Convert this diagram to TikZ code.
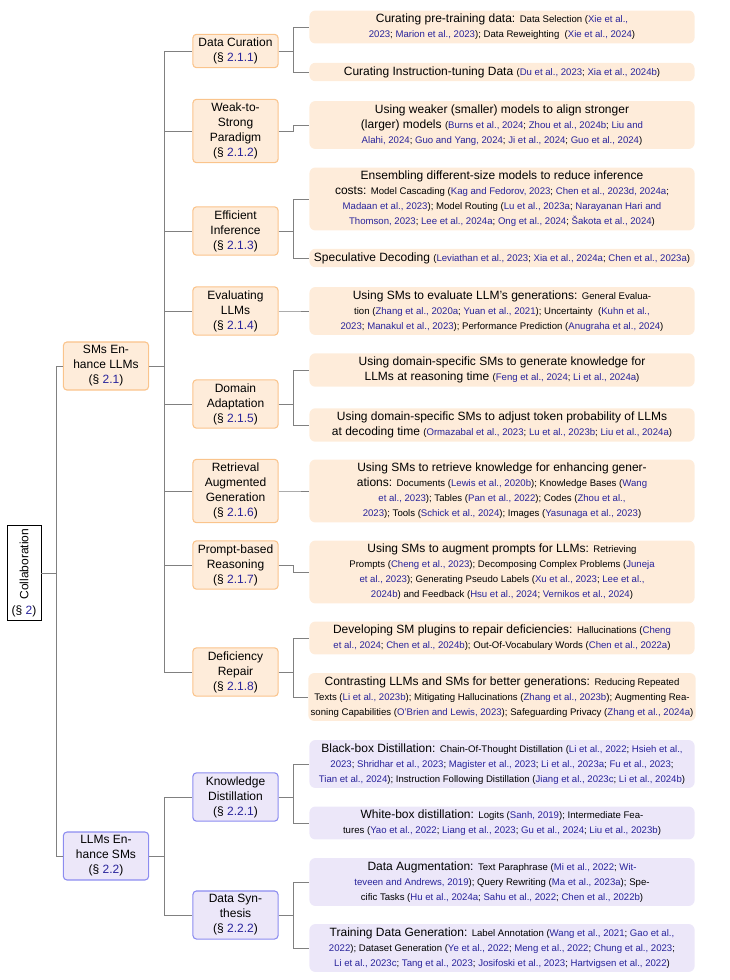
\documentclass[tikz,border=0pt]{standalone}
\usepackage{fontspec}
\setmainfont{Liberation Sans}

\definecolor{citeblue}{RGB}{40,35,155}
\definecolor{orfill}{RGB}{254,236,218}
\definecolor{ordraw}{RGB}{250,196,140}
\definecolor{pufill}{RGB}{236,231,249}
\definecolor{pudraw}{RGB}{140,140,240}
\definecolor{linkgray}{RGB}{128,128,128}

\newcommand{\smtext}[1]{{\fontsize{8}{12}\selectfont #1}}
\newcommand{\citeb}[1]{\textcolor{citeblue}{#1}}

\begin{document}
\begin{tikzpicture}[x = 0.8333pt, y = -0.8333pt,
	box/.style = {rounded corners=3pt, line width=0.9pt, align=center,
		inner xsep=2pt, inner ysep=3pt, minimum width=71pt,
		font=\fontsize{10}{12.5}\selectfont},
	enh/.style = {box, draw=ordraw, fill=orfill},
	enhs/.style = {box, draw=pudraw, fill=pufill},
	leaf/.style = {rounded corners=5pt, align=center, inner xsep=2pt,
		inner ysep=3pt, minimum width=321pt,
		font=\fontsize{10}{12.5}\selectfont},
	leafo/.style = {leaf, fill=orfill},
	leafp/.style = {leaf, fill=pufill},
	link/.style = {draw=linkgray, line width=0.8pt}]
	\useasboundingbox (0,0) rectangle (730,980);
	
	% root and first level
	\node[draw, thin, align=center, inner sep=3pt, minimum width=28pt,
		minimum height=79pt, font=\fontsize{10}{12.5}\selectfont] (collab) at (24,573)
		{\rotatebox{90}{Collaboration}\\(§ \citeb{2})};
	\node[enh] (smllm) at (106,366) {SMs En-\\hance LLMs\\(§ \citeb{2.1})};
	\node[enhs] (llmsm) at (106,856) {LLMs En-\\hance SMs\\(§ \citeb{2.2})};
	
	% second level
	\node[enh] (curation) at (235.5,51) {Data Curation\\(§ \citeb{2.1.1})};
	\node[enh] (weak) at (235.5,131) {Weak-to-\\Strong\\Paradigm\\(§ \citeb{2.1.2})};
	\node[enh] (infer) at (235.5,231) {Efficient\\Inference\\(§ \citeb{2.1.3})};
	\node[enh] (evalu) at (235.5,311) {Evaluating\\LLMs\\(§ \citeb{2.1.4})};
	\node[enh] (domain) at (235.5,404) {Domain\\Adaptation\\(§ \citeb{2.1.5})};
	\node[enh] (rag) at (235.5,491) {Retrieval\\Augmented\\Generation\\(§ \citeb{2.1.6})};
	\node[enh] (prompt) at (235.5,565) {Prompt-based\\Reasoning\\(§ \citeb{2.1.7})};
	\node[enh] (repair) at (235.5,672) {Deficiency\\Repair\\(§ \citeb{2.1.8})};
	\node[enhs] (distil) at (235.5,797) {Knowledge\\Distillation\\(§ \citeb{2.2.1})};
	\node[enhs] (synth) at (235.5,915) {Data Syn-\\thesis\\(§ \citeb{2.2.2})};
	
	% leaves
	\node[leafo] (curationA) at (502,27)
		{Curating pre-training data: \smtext{Data Selection (\citeb{Xie et al.,}}\\
		\smtext{\citeb{2023}; \citeb{Marion et al., 2023}); Data Reweighting\ \ (\citeb{Xie et al., 2024})}};
	\node[leafo] (curationB) at (502,72)
		{Curating Instruction-tuning Data \smtext{(\citeb{Du et al., 2023}; \citeb{Xia et al., 2024b})}};
	\node[leafo] (weakA) at (502,125)
		{Using weaker (smaller) models to align stronger\\
		(larger) models \smtext{(\citeb{Burns et al., 2024}; \citeb{Zhou et al., 2024b}; \citeb{Liu and}}\\
		\smtext{\citeb{Alahi, 2024}; \citeb{Guo and Yang, 2024}; \citeb{Ji et al., 2024}; \citeb{Guo et al., 2024})}};
	\node[leafo] (inferA) at (502,199)
		{Ensembling different-size models to reduce inference\\
		costs: \smtext{Model Cascading (\citeb{Kag and Fedorov, 2023}; \citeb{Chen et al., 2023d, 2024a};}\\
		\smtext{\citeb{Madaan et al., 2023}); Model Routing (\citeb{Lu et al., 2023a}; \citeb{Narayanan Hari and}}\\
		\smtext{\citeb{Thomson, 2023}; \citeb{Lee et al., 2024a}; \citeb{Ong et al., 2024}; \citeb{Šakota et al., 2024})}};
	\node[leafo] (inferB) at (502,258)
		{Speculative Decoding \smtext{(\citeb{Leviathan et al., 2023}; \citeb{Xia et al., 2024a}; \citeb{Chen et al., 2023a})}};
	\node[leafo] (evaluA) at (502,311)
		{Using SMs to evaluate LLM's generations: \smtext{General Evalua-}\\
		\smtext{tion (\citeb{Zhang et al., 2020a}; \citeb{Yuan et al., 2021}); Uncertainty\ \ (\citeb{Kuhn et al.,}}\\
		\smtext{\citeb{2023}; \citeb{Manakul et al., 2023}); Performance Prediction (\citeb{Anugraha et al., 2024})}};
	\node[leafo] (domainA) at (502,370)
		{Using domain-specific SMs to generate knowledge for\\
		LLMs at reasoning time \smtext{(\citeb{Feng et al., 2024}; \citeb{Li et al., 2024a})}};
	\node[leafo] (domainB) at (502,425)
		{Using domain-specific SMs to adjust token probability of LLMs\\
		at decoding time \smtext{(\citeb{Ormazabal et al., 2023}; \citeb{Lu et al., 2023b}; \citeb{Liu et al., 2024a})}};
	\node[leafo] (ragA) at (502,491)
		{Using SMs to retrieve knowledge for enhancing gener-\\
		ations: \smtext{Documents (\citeb{Lewis et al., 2020b}); Knowledge Bases (\citeb{Wang}}\\
		\smtext{\citeb{et al., 2023}); Tables (\citeb{Pan et al., 2022}); Codes (\citeb{Zhou et al.,}}\\
		\smtext{\citeb{2023}); Tools (\citeb{Schick et al., 2024}); Images (\citeb{Yasunaga et al., 2023})}};
	\node[leafo] (promptA) at (502,572)
		{Using SMs to augment prompts for LLMs: \smtext{Retrieving}\\
		\smtext{Prompts (\citeb{Cheng et al., 2023}); Decomposing Complex Problems (\citeb{Juneja}}\\
		\smtext{\citeb{et al., 2023}); Generating Pseudo Labels (\citeb{Xu et al., 2023}; \citeb{Lee et al.,}}\\
		\smtext{\citeb{2024b}) and Feedback (\citeb{Hsu et al., 2024}; \citeb{Vernikos et al., 2024})}};
	\node[leafo] (repairA) at (502,638)
		{Developing SM plugins to repair deficiencies: \smtext{Hallucinations (\citeb{Cheng}}\\
		\smtext{\citeb{et al., 2024}; \citeb{Chen et al., 2024b}); Out-Of-Vocabulary Words (\citeb{Chen et al., 2022a})}};
	\node[leafo] (repairB) at (502,697)
		{Contrasting LLMs and SMs for better generations: \smtext{Reducing Repeated}\\
		\smtext{Texts (\citeb{Li et al., 2023b}); Mitigating Hallucinations (\citeb{Zhang et al., 2023b}); Augmenting Rea-}\\
		\smtext{soning Capabilities (\citeb{O'Brien and Lewis, 2023}); Safeguarding Privacy (\citeb{Zhang et al., 2024a})}};
	\node[leafp] (distilA) at (502,764)
		{Black-box Distillation: \smtext{Chain-Of-Thought Distillation (\citeb{Li et al., 2022}; \citeb{Hsieh et al.,}}\\
		\smtext{\citeb{2023}; \citeb{Shridhar et al., 2023}; \citeb{Magister et al., 2023}; \citeb{Li et al., 2023a}; \citeb{Fu et al., 2023};}\\
		\smtext{\citeb{Tian et al., 2024}); Instruction Following Distillation (\citeb{Jiang et al., 2023c}; \citeb{Li et al., 2024b})}};
	\node[leafp] (distilB) at (502,823)
		{White-box distillation: \smtext{Logits (\citeb{Sanh, 2019}); Intermediate Fea-}\\
		\smtext{tures (\citeb{Yao et al., 2022}; \citeb{Liang et al., 2023}; \citeb{Gu et al., 2024}; \citeb{Liu et al., 2023b})}};
	\node[leafp] (synthA) at (502,882)
		{Data Augmentation: \smtext{Text Paraphrase (\citeb{Mi et al., 2022}; \citeb{Wit-}}\\
		\smtext{\citeb{teveen and Andrews, 2019}); Query Rewriting (\citeb{Ma et al., 2023a}); Spe-}\\
		\smtext{cific Tasks (\citeb{Hu et al., 2024a}; \citeb{Sahu et al., 2022}; \citeb{Chen et al., 2022b})}};
	\node[leafp] (synthB) at (502,948)
		{Training Data Generation: \smtext{Label Annotation (\citeb{Wang et al., 2021}; \citeb{Gao et al.,}}\\
		\smtext{\citeb{2022}); Dataset Generation (\citeb{Ye et al., 2022}; \citeb{Meng et al., 2022}; \citeb{Chung et al., 2023};}\\
		\smtext{\citeb{Li et al., 2023c}; \citeb{Tang et al., 2023}; \citeb{Josifoski et al., 2023}; \citeb{Hartvigsen et al., 2022})}};
	
	% tree edges
	\foreach \up/\kid in {collab/smllm, collab/llmsm,
		smllm/curation, smllm/weak, smllm/infer, smllm/evalu, smllm/domain,
		smllm/rag, smllm/prompt, smllm/repair, llmsm/distil, llmsm/synth,
		curation/curationA, curation/curationB, weak/weakA, infer/inferA,
		infer/inferB, evalu/evaluA, domain/domainA, domain/domainB, rag/ragA,
		prompt/promptA, repair/repairA, repair/repairB, distil/distilA,
		distil/distilB, synth/synthA, synth/synthB}
		\draw[link] (\up.east) -- ++(15,0) |- (\kid.west);
\end{tikzpicture}
\end{document}
